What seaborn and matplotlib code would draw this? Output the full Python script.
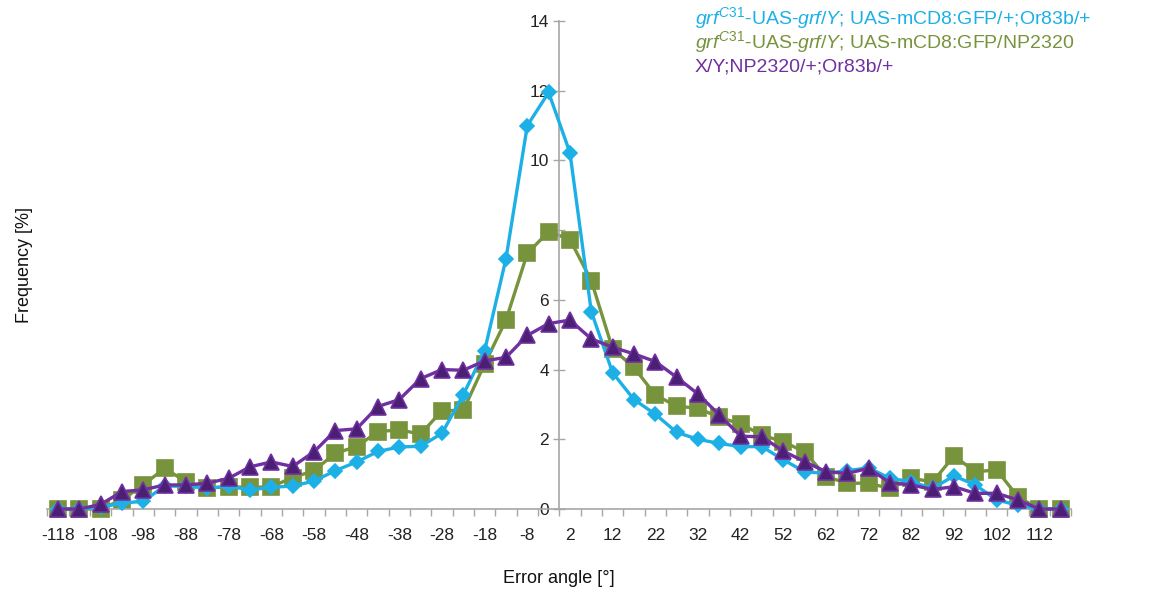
import numpy as np
import pandas as pd
import matplotlib
matplotlib.use("Agg")
import matplotlib.pyplot as plt
from matplotlib.ticker import FixedLocator, FixedFormatter
import seaborn as sns

# Error-angle bins (5 degree steps, bin centres)
angles = list(range(-118, 118, 5))

# Frequency [%] per bin for each genotype
freq_grf_or83b = [0, 0, 0.05, 0.17, 0.22, 0.66, 0.65, 0.60, 0.65, 0.55, 0.62, 0.66,
                  0.80, 1.10, 1.35, 1.65, 1.78, 1.80, 2.17, 3.28, 4.54, 7.18, 11.0, 11.95,
                  10.22, 5.66, 3.91, 3.14, 2.72, 2.20, 2.00, 1.88, 1.79, 1.79, 1.41, 1.07,
                  1.02, 1.10, 1.18, 0.88, 0.78, 0.59, 0.95, 0.69, 0.26, 0.11, 0, 0]

freq_grf_np2320 = [0, 0, 0, 0.26, 0.69, 1.17, 0.78, 0.60, 0.64, 0.62, 0.64, 0.90,
                   1.10, 1.60, 1.79, 2.22, 2.27, 2.15, 2.82, 2.83, 4.16, 5.42, 7.33, 7.96,
                   7.73, 6.55, 4.59, 4.06, 3.27, 2.95, 2.89, 2.63, 2.44, 2.12, 1.93, 1.64,
                   0.93, 0.74, 0.74, 0.59, 0.88, 0.78, 1.52, 1.07, 1.12, 0.35, 0, 0]

freq_control = [0, 0, 0.13, 0.50, 0.55, 0.69, 0.69, 0.74, 0.88, 1.21, 1.35, 1.22,
                1.64, 2.25, 2.30, 2.94, 3.14, 3.74, 4.00, 3.98, 4.25, 4.35, 4.98, 5.32,
                5.42, 4.88, 4.64, 4.45, 4.23, 3.78, 3.30, 2.70, 2.09, 2.07, 1.66, 1.36,
                1.07, 1.02, 1.17, 0.75, 0.69, 0.56, 0.64, 0.45, 0.45, 0.26, 0, 0]

tick_labels = [str(a) for a in range(-118, 113, 10)]

legend_labels = [
    r"$\mathit{grf}^{\mathit{C31}}$-UAS-$\mathit{grf/Y}$; UAS-mCD8:GFP/+;Or83b/+",
    r"$\mathit{grf}^{\mathit{C31}}$-UAS-$\mathit{grf/Y}$; UAS-mCD8:GFP/NP2320",
    "X/Y;NP2320/+;Or83b/+",
]

CYAN = "#1DB0E6"
OLIVE = "#77933C"
PURPLE = "#7030A0"
PURPLE_DARK = "#4B1F73"
AXIS_GREY = "#A6A6A6"

sns.set_style("white")
plt.rcParams["font.family"] = ["Liberation Sans", "DejaVu Sans"]
plt.rcParams["mathtext.fontset"] = "custom"
plt.rcParams["mathtext.rm"] = "Liberation Sans"
plt.rcParams["mathtext.it"] = "Liberation Sans:italic"

df = pd.DataFrame({
    "angle": angles * 3,
    "freq": freq_grf_or83b + freq_grf_np2320 + freq_control,
    "genotype": (["grf_or83b"] * len(angles) + ["grf_np2320"] * len(angles)
                 + ["control"] * len(angles)),
})

fig = plt.figure(figsize=(11.62, 5.97), dpi=100)
ax = fig.add_axes([47.3 / 1162, 88 / 597, 1024 / 1162, 488 / 597])

styles = {
    "grf_np2320": dict(color=OLIVE, marker="s", markersize=11.5, mfc=OLIVE, mec=OLIVE, z=2),
    "grf_or83b": dict(color=CYAN, marker="D", markersize=7.5, mfc=CYAN, mec=CYAN, z=3),
    "control": dict(color=PURPLE, marker="^", markersize=11.5, mfc=PURPLE_DARK, mec=PURPLE, z=4),
}
for key in ["grf_np2320", "grf_or83b", "control"]:
    st = styles[key]
    sub = df[df["genotype"] == key]
    sns.lineplot(data=sub, x="angle", y="freq", ax=ax, color=st["color"],
                 marker=st["marker"], markersize=st["markersize"],
                 markerfacecolor=st["mfc"], markeredgecolor=st["mec"],
                 markeredgewidth=1.2, linewidth=2.4, zorder=st["z"],
                 clip_on=False, legend=False, errorbar=None)

ax.set_xlim(-120.5, 119.5)
ax.set_ylim(0, 14)

# vertical axis crosses between the -3 and 2 bins
for s in ["top", "right"]:
    ax.spines[s].set_visible(False)
ax.spines["left"].set_position(("data", -0.5))
ax.spines["left"].set_color(AXIS_GREY)
ax.spines["bottom"].set_color(AXIS_GREY)
ax.spines["left"].set_linewidth(1.2)
ax.spines["bottom"].set_linewidth(1.2)

ax.xaxis.set_major_locator(FixedLocator(list(range(-118, 113, 10))))
ax.xaxis.set_major_formatter(FixedFormatter(tick_labels))
ax.xaxis.set_minor_locator(FixedLocator(list(np.arange(-120.5, 120, 5))))
ax.tick_params(axis="x", which="major", length=0, pad=14, labelsize=12.5, labelcolor="#222222")
ax.tick_params(axis="x", which="minor", length=5, width=1, color=AXIS_GREY, direction="out",
               bottom=True)
ax.set_yticks(range(0, 15, 2))
ax.tick_params(axis="y", which="major", length=9, width=1, color=AXIS_GREY, direction="inout",
               pad=3, labelsize=12.5, labelcolor="#222222", left=True)

ax.set_xlabel("Error angle [°]", fontsize=13, color="#111111")
ax.set_ylabel("Frequency [%]", fontsize=13, color="#111111")
ax.xaxis.set_label_coords(0.5, -0.125)
ax.yaxis.set_label_coords(-0.014, 0.5)
ax.grid(False)

legend_colors = [CYAN, OLIVE, PURPLE]
baselines = [24, 48.5, 71.5]
for text, col, yb in zip(legend_labels, legend_colors, baselines):
    fig.text(695 / 1162, 1 - yb / 597, text, color=col, fontsize=14, va="baseline", ha="left")

fig.savefig("out.png", dpi=100)
